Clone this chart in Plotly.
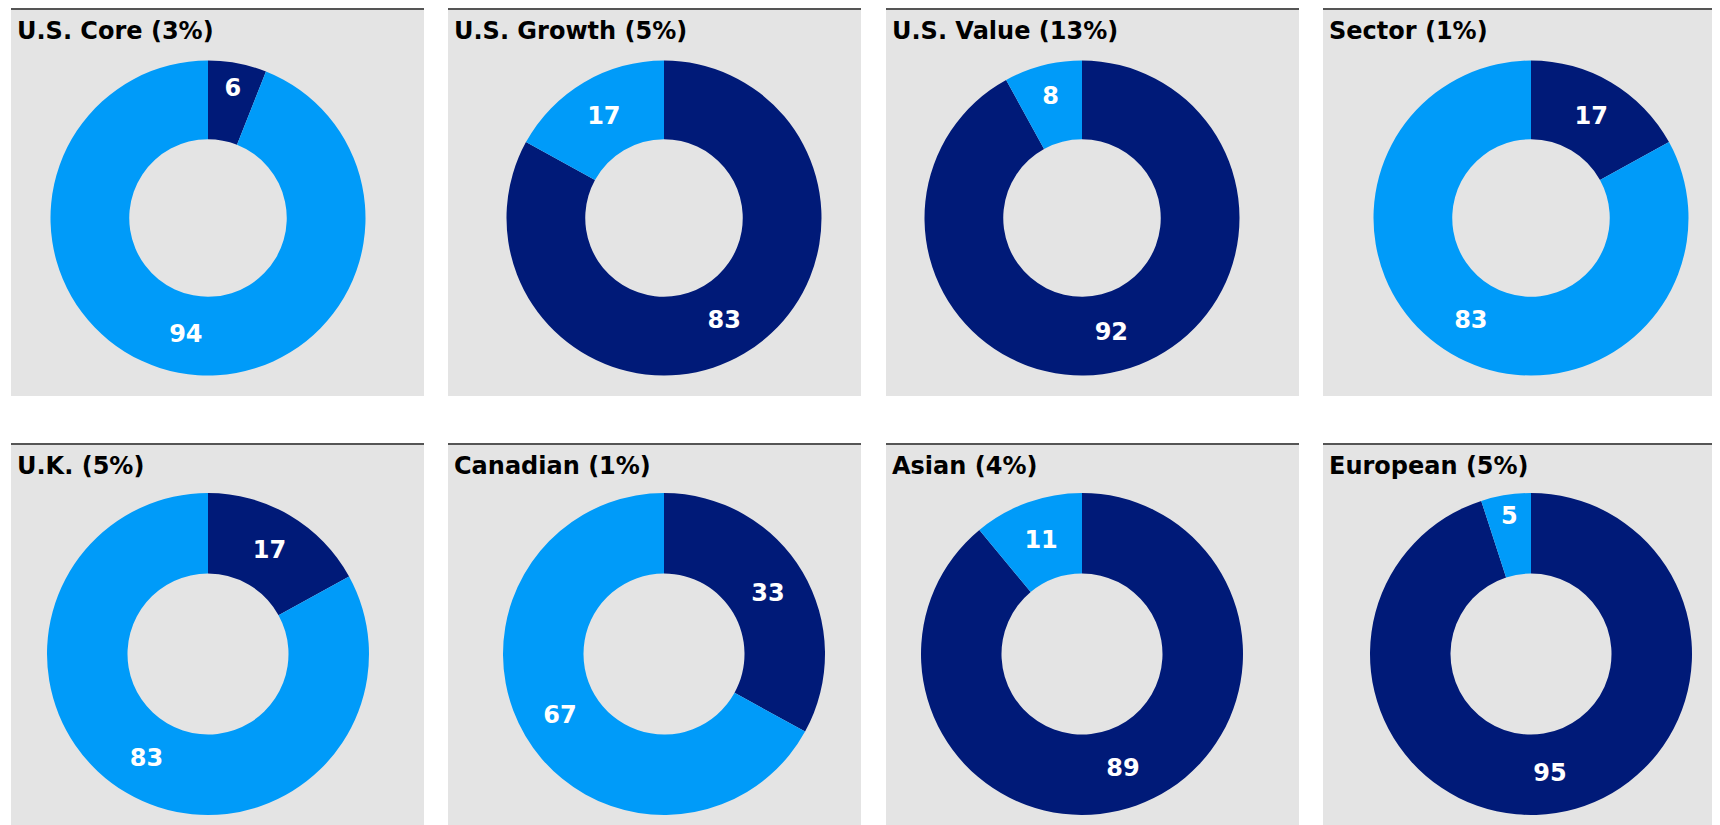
import plotly.graph_objects as go

# ---- data ----
titles = ["U.S. Core (3%)", "U.S. Growth (5%)", "U.S. Value (13%)", "Sector (1%)",
          "U.K. (5%)", "Canadian (1%)", "Asian (4%)", "European (5%)"]
dark_values = [6, 83, 92, 17, 17, 33, 89, 95]
light_values = [94, 17, 8, 83, 83, 67, 11, 5]
segment_names = ["Dark", "Light"]

# ---- layout constants (page px; the page body adds an 8px offset) ----
W, H = 1720, 825
OFF = 8
NAVY = "#001A78"
BLUE = "#009BF9"
PANEL_BG = "#E4E4E4"
LINE_C = "#555555"
FONT = "DejaVu Sans, Verdana, sans-serif"

panel_left = [11, 448, 886, 1323]
panel_width = 413
row_top = [9, 444]
row_bottom = [396, 840]
donut_cx = [208, 664, 1082, 1531]
donut_cy = [218, 654]
donut_r = [157.5, 161]


def px(x):
    return (x - OFF) / W


def py(y):
    return 1 - (y - OFF) / H


fig = go.Figure()
shapes = []
annotations = []

for i, title in enumerate(titles):
    row, col = divmod(i, 4)
    cx, cy, r = donut_cx[col], donut_cy[row], donut_r[row]
    fig.add_trace(go.Pie(
        labels=segment_names,
        values=[dark_values[i], light_values[i]],
        text=[str(dark_values[i]), str(light_values[i])],
        textinfo="text",
        textposition="inside",
        insidetextorientation="horizontal",
        textfont=dict(family=FONT, size=24, color="white", weight="bold"),
        marker=dict(colors=[NAVY, BLUE], line=dict(width=0)),
        hole=0.5,
        sort=False,
        direction="clockwise",
        rotation=0,
        showlegend=False,
        hoverinfo="label+value",
        domain=dict(x=[px(cx - r), px(cx + r)],
                    y=[py(cy + r), py(cy - r)]),
    ))
    x0 = panel_left[col]
    x1 = x0 + panel_width
    y0, y1 = row_top[row], row_bottom[row]
    shapes.append(dict(type="rect", xref="paper", yref="paper", layer="below",
                       x0=px(x0), x1=px(x1), y0=py(y1), y1=py(y0),
                       fillcolor=PANEL_BG, line=dict(width=0)))
    shapes.append(dict(type="line", xref="paper", yref="paper", layer="above",
                       x0=px(x0), x1=px(x1), y0=py(y0), y1=py(y0),
                       line=dict(color=LINE_C, width=2)))
    annotations.append(dict(text="<b>" + title + "</b>", xref="paper", yref="paper",
                            x=px(x0 + 4), y=py(y0 + 6),
                            xanchor="left", yanchor="top", showarrow=False,
                            font=dict(family=FONT, size=24, color="black")))

fig.update_layout(
    width=W, height=H,
    margin=dict(l=0, r=0, t=0, b=0),
    paper_bgcolor="white",
    plot_bgcolor="white",
    shapes=shapes,
    annotations=annotations,
    uniformtext=dict(minsize=24, mode="show"),
)

fig.write_html("out.html")
